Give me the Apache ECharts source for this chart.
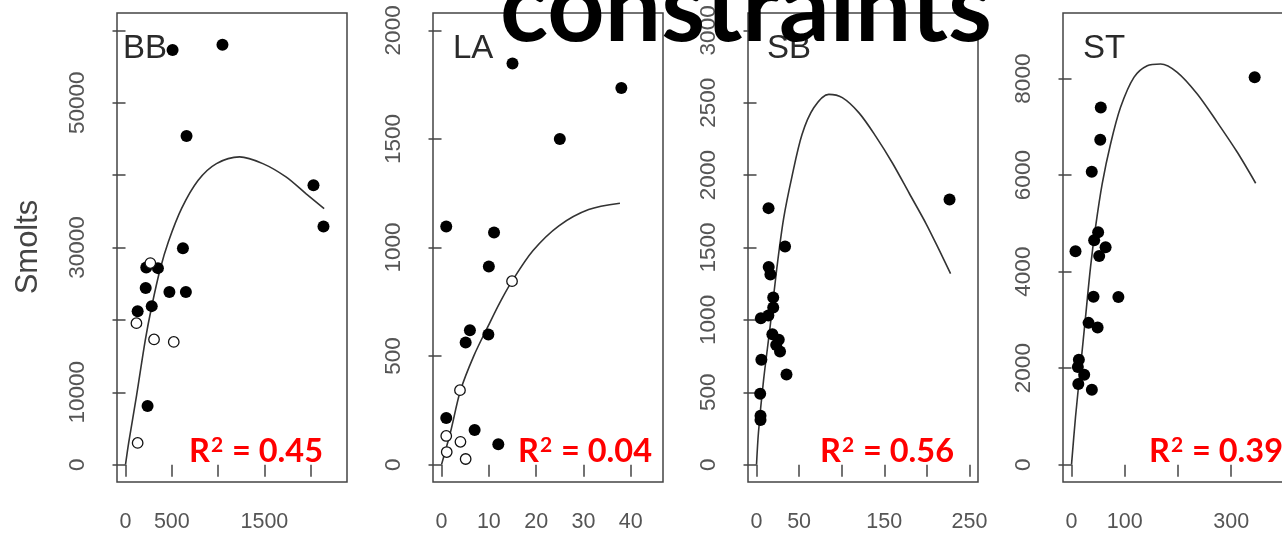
<!DOCTYPE html>
<html>
<head>
<meta charset="utf-8">
<script src="https://cdn.jsdelivr.net/npm/echarts@6/dist/echarts.min.js"></script>
<style>
  html, body { margin: 0; padding: 0; background: #fff; }
  #main { width: 1282px; height: 537px; }
</style>
</head>
<body>
<div id="main"></div>
<script>
// panel names and fit quality
var panelNames = ["BB", "LA", "SB", "ST"];
var r2Values = ["0.45", "0.04", "0.56", "0.39"];

// BB: spawners vs smolts (filled = observed, open = other years)
var bbFilled = [[508, 57300], [1047, 58000], [659, 45400], [2030, 38600], [2138, 32900],
  [620, 29900], [224, 27250], [350, 27150], [218, 24400], [474, 23850], [652, 23850],
  [283, 21900], [131, 21200], [238, 8100]];
var bbOpen = [[118, 19550], [308, 17300], [521, 16950], [131, 3000], [268, 27850]];
var bbCurve = [[0, 0], [34, 3000], [120, 9600], [213, 17180], [284, 21920], [374, 27000],
  [463, 30800], [606, 35400], [785, 39290], [982, 41590], [1232, 42520], [1483, 41590],
  [1733, 39750], [1948, 37450], [2145, 35380]];

// LA
var laFilled = [[15, 1847], [38, 1735], [25, 1500], [1, 1097], [11.1, 1069], [10, 912],
  [9.9, 599], [6, 619], [5.1, 563], [1, 215], [7, 160], [12, 94]];
var laOpen = [[14.9, 845], [3.9, 343], [1, 132], [4, 105], [1.1, 58], [5.1, 26]];
var laCurve = [[0, 0], [1.9, 150], [4, 341], [6.8, 500], [9.9, 640], [12.3, 745],
  [14.9, 845], [19.3, 985], [24.8, 1100], [31.1, 1175], [37.7, 1204]];

// SB
var sbFilled = [[226.6, 1831], [14.1, 1772], [33.5, 1507], [14.3, 1366], [16.3, 1313],
  [19.6, 1155], [19.6, 1085], [5.1, 1012], [13.9, 1030], [18.6, 900], [26.1, 862],
  [23.1, 827], [27.6, 782], [5.7, 724], [35.2, 622], [4.3, 490], [4.7, 338], [4.7, 308]];
var sbCurve = [[0, 0], [2.3, 224], [8.2, 580], [16.1, 960], [23.9, 1360], [31.8, 1700],
  [41.6, 1990], [53.4, 2280], [67.2, 2465], [84.9, 2558], [100.7, 2535], [120.3, 2430],
  [140, 2268], [159.7, 2082], [179.4, 1873], [199.1, 1664], [214.8, 1478], [227.8, 1320]];

// ST
var stFilled = [[344, 8026], [55, 7400], [54, 6733], [38, 6068], [50, 4815], [42.5, 4650],
  [64, 4505], [52, 4326], [7.5, 4424], [41.3, 3480], [88, 3476], [32, 2938], [49, 2844],
  [13.8, 2176], [11.9, 2022], [23.8, 1861], [12.8, 1671], [38.2, 1553]];
var stCurve = [[0, 0], [7.5, 987], [16.9, 2022], [26.3, 3057], [35.7, 4093], [45.1, 4921],
  [57.6, 5818], [73.3, 6646], [92.1, 7405], [117.2, 8026], [142.2, 8268], [167.3, 8302],
  [198.6, 8130], [236.2, 7681], [273.8, 7094], [311.4, 6473], [345.9, 5832]];

// axis ticks and the labels R kept
var xTicks = [[0, 500, 1000, 1500, 2000], [0, 10, 20, 30, 40], [0, 50, 100, 150, 200, 250], [0, 100, 200, 300, 400]];
var xLabels = [[0, 500, 1500], [0, 10, 20, 30, 40], [0, 50, 150, 250], [0, 100, 300]];
var yTicks = [[0, 10000, 20000, 30000, 40000, 50000, 60000], [0, 500, 1000, 1500, 2000],
  [0, 500, 1000, 1500, 2000, 2500, 3000], [0, 2000, 4000, 6000, 8000]];
var yLabels = [[0, 10000, 30000, 50000], [0, 500, 1000, 1500, 2000],
  [0, 500, 1000, 1500, 2000, 2500, 3000], [0, 2000, 4000, 6000, 8000]];
// plotted ranges (xlim / ylim with R's 4% padding)
var xRanges = [[-92, 2392], [-1.8, 46.8], [-10, 260], [-16, 416]];
var yRanges = [[-2400, 62400], [-80, 2080], [-120, 3120], [-360, 9360]];

var chartDom = document.getElementById("main");
var myChart = echarts.init(chartDom);

var gridLefts = [117, 433, 748, 1063];
var grids = [], xAxes = [], yAxes = [], series = [];
var labelFont = "Liberation Sans";
var plain = function (v) { return String(v); };

for (var i = 0; i < 4; i++) {
  grids.push({
    left: gridLefts[i], top: 13, width: 230, height: 469,
    show: true, borderColor: "#444", borderWidth: 1.5,
    backgroundColor: "transparent", outerBoundsMode: "none"
  });
  xAxes.push({
    type: "value", gridIndex: i, min: xRanges[i][0], max: xRanges[i][1],
    splitLine: { show: false }, axisLine: { show: false },
    axisTick: { show: true, length: 12, customValues: xTicks[i], lineStyle: { color: "#444", width: 1.5 } },
    axisLabel: { customValues: xLabels[i], formatter: plain, margin: 29, fontSize: 21.5, color: "#555", fontFamily: labelFont }
  });
  yAxes.push({
    type: "value", gridIndex: i, min: yRanges[i][0], max: yRanges[i][1],
    splitLine: { show: false }, axisLine: { show: false },
    axisTick: { show: true, length: 13, customValues: yTicks[i], lineStyle: { color: "#444", width: 1.5 } },
    axisLabel: { customValues: yLabels[i], formatter: plain, rotate: 90, margin: 28, fontSize: 22.5, color: "#555", fontFamily: labelFont }
  });
}

var filledSets = [bbFilled, laFilled, sbFilled, stFilled];
var openSets = [bbOpen, laOpen, null, null];
var curves = [bbCurve, laCurve, sbCurve, stCurve];

for (var j = 0; j < 4; j++) {
  series.push({
    type: "line", xAxisIndex: j, yAxisIndex: j, data: curves[j], smooth: 0.3,
    symbol: "none", lineStyle: { color: "#333", width: 1.6 }, z: 2
  });
  series.push({
    type: "scatter", xAxisIndex: j, yAxisIndex: j, data: filledSets[j], symbolSize: 12,
    itemStyle: { color: "#000", opacity: 1 }, z: 3
  });
  if (openSets[j]) {
    series.push({
      type: "scatter", xAxisIndex: j, yAxisIndex: j, data: openSets[j], symbolSize: 10.5,
      itemStyle: { color: "#fff", borderColor: "#111", borderWidth: 1.3, opacity: 1 }, z: 4
    });
  }
}

var nameX = [123, 453, 767, 1083];
var r2Right = [323, 652, 954, 1283];
var graphics = [];
for (var k = 0; k < 4; k++) {
  graphics.push({
    type: "text", x: nameX[k], y: 49, z: 10,
    style: { text: panelNames[k], fill: "#2a2a2a", font: "33px Liberation Sans", textAlign: "left", textVerticalAlign: "middle" }
  });
  graphics.push({
    type: "text", x: r2Right[k], y: 452, z: 10,
    style: {
      text: "{r|R}{s|2}{r| = " + r2Values[k] + "}",
      textAlign: "right", textVerticalAlign: "middle",
      rich: {
        r: { fill: "#ff0000", fontFamily: "Lato", fontWeight: "bold", fontSize: 32.5, lineHeight: 35 },
        s: { fill: "#ff0000", fontFamily: "Lato", fontWeight: "bold", fontSize: 21, lineHeight: 35, padding: [0, 1, 14, 1] }
      }
    }
  });
}
graphics.push({
  type: "text", x: 28, y: 247, rotation: Math.PI / 2, z: 10,
  style: { text: "Smolts", fill: "#444", font: "31px Liberation Sans", textAlign: "center", textVerticalAlign: "middle" }
});
graphics.push({
  type: "text", x: 746, y: 9, z: 20,
  style: { text: "constraints", fill: "#000", font: "bold 100px Lato", textAlign: "center", textVerticalAlign: "middle" }
});

var option = {
  animation: false,
  backgroundColor: "#fff",
  grid: grids,
  xAxis: xAxes,
  yAxis: yAxes,
  series: series,
  graphic: graphics
};

option && myChart.setOption(option);
</script>
</body>
</html>
